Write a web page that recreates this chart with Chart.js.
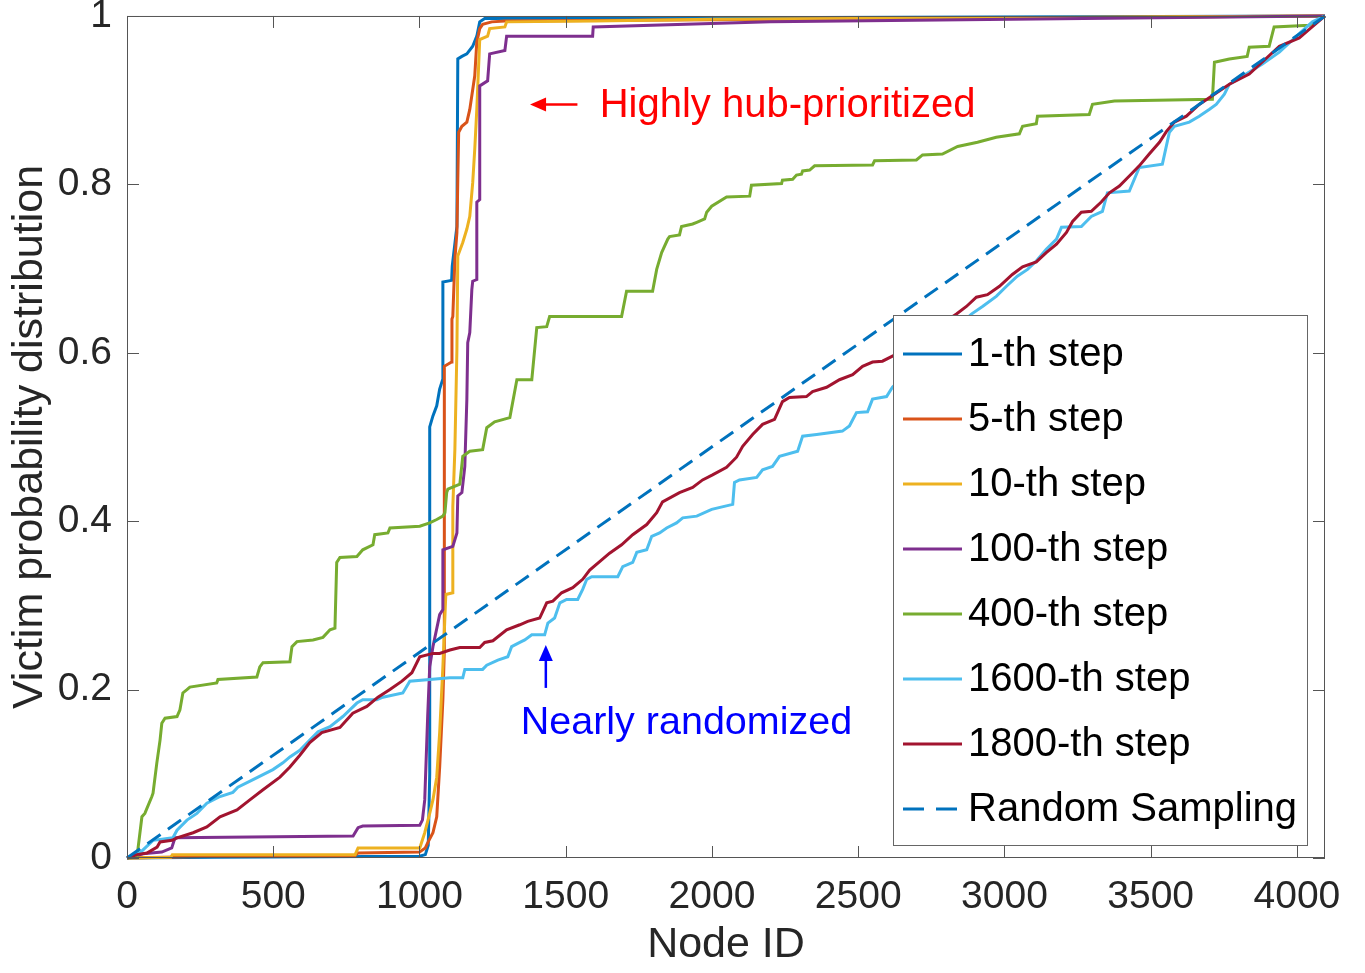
<!DOCTYPE html>
<html>
<head>
<meta charset="utf-8">
<title>Victim probability distribution</title>
<script src="https://cdn.jsdelivr.net/npm/chart.js@4.4.1/dist/chart.umd.min.js"></script>
<style>
  html, body { margin: 0; padding: 0; background: #fff; }
  #wrap { width: 1365px; height: 973px; }
</style>
</head>
<body>
<div id="wrap"><canvas id="chart"></canvas></div>
<script>
// values: [node id, cumulative probability]
const step1 = [[0,0],[300,0.001],[1000,0.002],[1020,0.004],[1030,0.015],[1035,0.1],[1035,0.512],[1046,0.525],[1059,0.537],[1069,0.557],[1080,0.569],[1080,0.684],[1110,0.686],[1112,0.703],[1128,0.75],[1131,0.949],[1145,0.952],[1162,0.955],[1182,0.964],[1196,0.976],[1206,0.993],[1223,0.997],[4096,1]];
const step5 = [[0,0],[300,0.002],[780,0.003],[790,0.006],[1000,0.007],[1020,0.012],[1028,0.018],[1046,0.03],[1059,0.049],[1069,0.108],[1080,0.188],[1085,0.247],[1085,0.584],[1110,0.589],[1111,0.64],[1114,0.643],[1121,0.711],[1128,0.743],[1131,0.806],[1134,0.862],[1145,0.869],[1162,0.874],[1172,0.889],[1189,0.929],[1196,0.969],[1206,0.985],[1216,0.99],[1247,0.993],[1292,0.994],[4096,1]];
const step10 = [[0,0],[150,0.001],[155,0.004],[780,0.004],[790,0.012],[1001,0.012],[1018,0.03],[1035,0.053],[1046,0.069],[1059,0.096],[1069,0.149],[1080,0.227],[1087,0.287],[1090,0.313],[1114,0.315],[1114,0.417],[1121,0.485],[1128,0.604],[1131,0.715],[1148,0.731],[1162,0.747],[1172,0.762],[1182,0.802],[1189,0.842],[1196,0.889],[1206,0.972],[1233,0.976],[1240,0.985],[1292,0.987],[1298,0.993],[1600,0.994],[2000,0.996],[4096,1]];
const step100 = [[0,0],[55,0.005],[119,0.007],[153,0.012],[164,0.024],[773,0.026],[790,0.036],[806,0.038],[1001,0.039],[1010,0.045],[1018,0.069],[1028,0.168],[1035,0.227],[1046,0.251],[1069,0.289],[1080,0.295],[1080,0.366],[1114,0.37],[1128,0.386],[1131,0.43],[1145,0.434],[1155,0.465],[1162,0.545],[1165,0.612],[1172,0.624],[1179,0.675],[1182,0.685],[1196,0.687],[1196,0.779],[1206,0.782],[1206,0.917],[1233,0.923],[1240,0.955],[1292,0.959],[1298,0.976],[1592,0.976],[1594,0.987],[2200,0.993],[4096,1]];
const step400 = [[0,0],[34,0.001],[51,0.049],[61,0.053],[85,0.073],[89,0.077],[102,0.113],[113,0.14],[119,0.16],[130,0.166],[171,0.168],[181,0.176],[191,0.196],[205,0.2],[215,0.203],[307,0.208],[311,0.212],[444,0.215],[454,0.227],[465,0.232],[557,0.233],[564,0.251],[581,0.257],[636,0.259],[670,0.262],[694,0.271],[711,0.273],[717,0.351],[728,0.357],[786,0.358],[806,0.366],[841,0.372],[847,0.384],[892,0.386],[899,0.392],[1001,0.394],[1035,0.398],[1059,0.402],[1080,0.406],[1087,0.41],[1093,0.434],[1097,0.438],[1138,0.444],[1148,0.477],[1172,0.483],[1216,0.485],[1230,0.511],[1257,0.518],[1309,0.523],[1333,0.568],[1384,0.568],[1401,0.63],[1435,0.631],[1445,0.643],[1691,0.643],[1708,0.673],[1797,0.673],[1811,0.699],[1828,0.719],[1849,0.735],[1855,0.738],[1889,0.74],[1896,0.75],[1934,0.753],[1948,0.755],[1975,0.759],[1982,0.767],[1999,0.774],[2050,0.785],[2129,0.786],[2135,0.799],[2238,0.801],[2241,0.805],[2276,0.806],[2289,0.811],[2306,0.812],[2310,0.816],[2334,0.817],[2351,0.822],[2549,0.823],[2556,0.828],[2699,0.829],[2720,0.835],[2788,0.836],[2840,0.845],[2908,0.85],[2972,0.856],[3051,0.86],[3062,0.869],[3109,0.872],[3113,0.881],[3290,0.883],[3301,0.895],[3376,0.899],[3711,0.901],[3718,0.945],[3769,0.949],[3830,0.952],[3837,0.963],[3905,0.964],[3922,0.987],[4042,0.989],[4096,1]];
const step1600 = [[0,0],[44,0.006],[89,0.021],[157,0.024],[171,0.033],[205,0.045],[239,0.053],[273,0.065],[318,0.073],[362,0.078],[379,0.084],[431,0.093],[499,0.105],[533,0.113],[557,0.12],[591,0.128],[625,0.14],[653,0.15],[694,0.156],[738,0.168],[786,0.184],[806,0.188],[854,0.188],[875,0.191],[943,0.196],[967,0.21],[1104,0.214],[1148,0.214],[1155,0.224],[1216,0.224],[1230,0.229],[1268,0.235],[1302,0.239],[1315,0.251],[1343,0.256],[1360,0.259],[1384,0.265],[1428,0.265],[1439,0.279],[1462,0.285],[1480,0.303],[1503,0.307],[1541,0.307],[1558,0.319],[1572,0.331],[1589,0.334],[1678,0.334],[1695,0.346],[1729,0.351],[1743,0.363],[1777,0.366],[1794,0.382],[1821,0.386],[1845,0.392],[1879,0.398],[1900,0.404],[1948,0.406],[1999,0.414],[2071,0.42],[2077,0.446],[2094,0.449],[2153,0.452],[2173,0.461],[2207,0.465],[2231,0.477],[2293,0.483],[2310,0.501],[2358,0.503],[2446,0.507],[2470,0.513],[2494,0.529],[2532,0.53],[2549,0.545],[2597,0.548],[2617,0.559],[2887,0.646],[2925,0.655],[2972,0.667],[3007,0.679],[3044,0.691],[3079,0.699],[3109,0.709],[3143,0.723],[3178,0.735],[3195,0.749],[3263,0.75],[3297,0.762],[3335,0.768],[3352,0.79],[3427,0.792],[3461,0.82],[3540,0.824],[3564,0.862],[3581,0.869],[3632,0.874],[3666,0.881],[3700,0.889],[3724,0.895],[3752,0.907],[3769,0.919],[3882,0.943],[3940,0.957],[4008,0.979],[4053,0.993],[4096,1]];
const step1800 = [[0,0],[34,0.004],[68,0.006],[103,0.013],[113,0.019],[154,0.021],[171,0.024],[226,0.03],[273,0.037],[318,0.049],[376,0.057],[420,0.069],[465,0.081],[523,0.096],[557,0.108],[591,0.122],[625,0.137],[666,0.149],[728,0.155],[772,0.172],[820,0.18],[858,0.191],[899,0.2],[940,0.21],[974,0.22],[1001,0.239],[1046,0.243],[1069,0.243],[1104,0.247],[1138,0.25],[1206,0.25],[1223,0.256],[1251,0.258],[1298,0.271],[1343,0.277],[1370,0.281],[1411,0.285],[1435,0.303],[1456,0.305],[1486,0.315],[1524,0.321],[1558,0.331],[1582,0.342],[1616,0.352],[1650,0.362],[1691,0.372],[1729,0.384],[1777,0.396],[1811,0.41],[1831,0.423],[1889,0.434],[1934,0.44],[1968,0.449],[2002,0.455],[2050,0.464],[2084,0.476],[2105,0.489],[2139,0.503],[2173,0.515],[2214,0.521],[2241,0.542],[2265,0.547],[2323,0.548],[2344,0.554],[2392,0.559],[2436,0.568],[2481,0.574],[2515,0.584],[2549,0.589],[2583,0.59],[2617,0.596],[2836,0.646],[2870,0.655],[2904,0.666],[2942,0.669],[2983,0.679],[3027,0.693],[3062,0.702],[3109,0.708],[3143,0.719],[3178,0.729],[3212,0.743],[3233,0.756],[3263,0.767],[3297,0.768],[3331,0.779],[3359,0.79],[3393,0.798],[3427,0.81],[3461,0.822],[3495,0.836],[3530,0.85],[3554,0.863],[3581,0.874],[3622,0.881],[3666,0.895],[3718,0.907],[3769,0.919],[3837,0.931],[3899,0.951],[3940,0.964],[4008,0.974],[4042,0.984],[4096,1]];
const randomSampling = [[0,0],[4096,1]];

const seriesLabels = ['1-th step','5-th step','10-th step','100-th step','400-th step','1600-th step','1800-th step','Random Sampling'];
const seriesData = [step1, step5, step10, step100, step400, step1600, step1800, randomSampling];
const seriesColors = ['#0072BD','#D95319','#EDB120','#7E2F8E','#77AC30','#4DBEEE','#A2142F','#0072BD'];

const xTicks = [0,500,1000,1500,2000,2500,3000,3500,4000];
const yTicks = [0,0.2,0.4,0.6,0.8,1];
const nodeCount = 4096;

const FONT = "'Liberation Sans', Arial, Helvetica, sans-serif";
Chart.defaults.font.family = FONT;

// box + inward ticks, like matlab axes
const axesBox = {
    id: 'axesBox',
    afterDatasetsDraw(chart) {
        const {ctx, chartArea: a, scales} = chart;
        ctx.save();
        ctx.strokeStyle = '#555';
        ctx.lineWidth = 1;
        ctx.strokeRect(a.left + 0.5, a.top + 0.5, a.right - a.left - 1, a.bottom - a.top - 1);
        ctx.beginPath();
        xTicks.forEach(v => {
            const px = Math.round(scales.x.getPixelForValue(v)) + 0.5;
            ctx.moveTo(px, a.bottom); ctx.lineTo(px, a.bottom - 12);
            ctx.moveTo(px, a.top); ctx.lineTo(px, a.top + 12);
        });
        yTicks.forEach(v => {
            const py = Math.round(scales.y.getPixelForValue(v)) + 0.5;
            ctx.moveTo(a.left, py); ctx.lineTo(a.left + 12, py);
            ctx.moveTo(a.right, py); ctx.lineTo(a.right - 12, py);
        });
        ctx.stroke();
        ctx.restore();
    }
};

// text annotations with arrows
const notes = {
    id: 'notes',
    afterDatasetsDraw(chart) {
        const {ctx, scales: {x, y}} = chart;
        ctx.save();
        ctx.textBaseline = 'middle';
        ctx.lineWidth = 2.5;

        // red: Highly hub-prioritized, arrow to the left
        let ay = y.getPixelForValue(0.895);
        let x0 = x.getPixelForValue(1540), x1 = x.getPixelForValue(1378);
        ctx.strokeStyle = ctx.fillStyle = '#FF0000';
        ctx.beginPath(); ctx.moveTo(x0, ay); ctx.lineTo(x1 + 12, ay); ctx.stroke();
        ctx.beginPath(); ctx.moveTo(x1, ay); ctx.lineTo(x1 + 16, ay - 7); ctx.lineTo(x1 + 16, ay + 7); ctx.closePath(); ctx.fill();
        ctx.font = '40px ' + FONT;
        ctx.fillText('Highly hub-prioritized', x.getPixelForValue(1616), ay + 2);

        // blue: Nearly randomized, arrow up
        let ax = x.getPixelForValue(1432);
        let y0 = y.getPixelForValue(0.202), y1 = y.getPixelForValue(0.253);
        ctx.strokeStyle = ctx.fillStyle = '#0000FF';
        ctx.beginPath(); ctx.moveTo(ax, y0); ctx.lineTo(ax, y1 + 12); ctx.stroke();
        ctx.beginPath(); ctx.moveTo(ax, y1); ctx.lineTo(ax - 7, y1 + 16); ctx.lineTo(ax + 7, y1 + 16); ctx.closePath(); ctx.fill();
        ctx.font = '39.5px ' + FONT;
        ctx.fillText('Nearly randomized', x.getPixelForValue(1346), y.getPixelForValue(0.16));
        ctx.restore();
    }
};

// legend box drawn inside the axes
const insideLegend = {
    id: 'insideLegend',
    afterDraw(chart) {
        const ctx = chart.ctx;
        const box = {left: 893, top: 315, right: 1307, bottom: 845};
        ctx.save();
        ctx.fillStyle = '#fff';
        ctx.fillRect(box.left, box.top, box.right - box.left, box.bottom - box.top);
        ctx.strokeStyle = '#666';
        ctx.lineWidth = 1;
        ctx.strokeRect(box.left + 0.5, box.top + 0.5, box.right - box.left, box.bottom - box.top);
        ctx.font = '40px ' + FONT;
        ctx.textBaseline = 'middle';
        chart.data.datasets.forEach((ds, i) => {
            const ry = 354 + i * 65;
            ctx.strokeStyle = ds.borderColor;
            ctx.lineWidth = ds.borderWidth;
            ctx.setLineDash(ds.borderDash.length ? [21, 12] : []);
            ctx.beginPath(); ctx.moveTo(903, ry); ctx.lineTo(962, ry); ctx.stroke();
            ctx.setLineDash([]);
            ctx.fillStyle = '#000';
            ctx.fillText(ds.label, 968, ry + 1);
        });
        ctx.restore();
    }
};

const datasets = seriesData.map((pts, i) => ({
    label: seriesLabels[i],
    data: pts.map(p => ({x: p[0], y: p[1]})),
    borderColor: seriesColors[i],
    backgroundColor: seriesColors[i],
    borderWidth: 3,
    borderDash: i === 7 ? [16, 9] : [],
    pointRadius: 0,
    tension: 0,
    fill: false,
    clip: 3,
    order: seriesData.length - i
}));

new Chart(document.getElementById('chart'), {
    type: 'line',
    data: {datasets: datasets},
    plugins: [axesBox, notes, insideLegend],
    options: {
        responsive: true,
        maintainAspectRatio: false,
        animation: false,
        layout: {padding: {top: 0, right: 40, left: 0, bottom: 0}},
        plugins: {legend: {display: false}, tooltip: {enabled: false}},
        scales: {
            x: {
                type: 'linear',
                min: 0,
                max: nodeCount,
                afterBuildTicks: s => { s.ticks = xTicks.map(v => ({value: v})); },
                afterFit: s => { s.height = 115; },
                grid: {display: false, drawTicks: false},
                border: {display: false},
                ticks: {color: '#262626', font: {size: 39}, padding: 16, maxRotation: 0, autoSkip: false,
                        callback: v => String(v)},
                title: {display: true, text: 'Node ID', color: '#262626', font: {size: 43}, padding: {bottom: 2}}
            },
            y: {
                type: 'linear',
                min: 0,
                max: 1,
                afterBuildTicks: s => { s.ticks = yTicks.map(v => ({value: v})); },
                afterFit: s => { s.width = 127; },
                grid: {display: false, drawTicks: false},
                border: {display: false},
                ticks: {color: '#262626', font: {size: 39, lineHeight: 0.05}, padding: 15, autoSkip: false,
                        callback: v => String(v)},
                title: {display: true, text: 'Victim probability distribution', color: '#262626', font: {size: 43}, padding: {top: 4}}
            }
        }
    }
});
</script>
</body>
</html>
